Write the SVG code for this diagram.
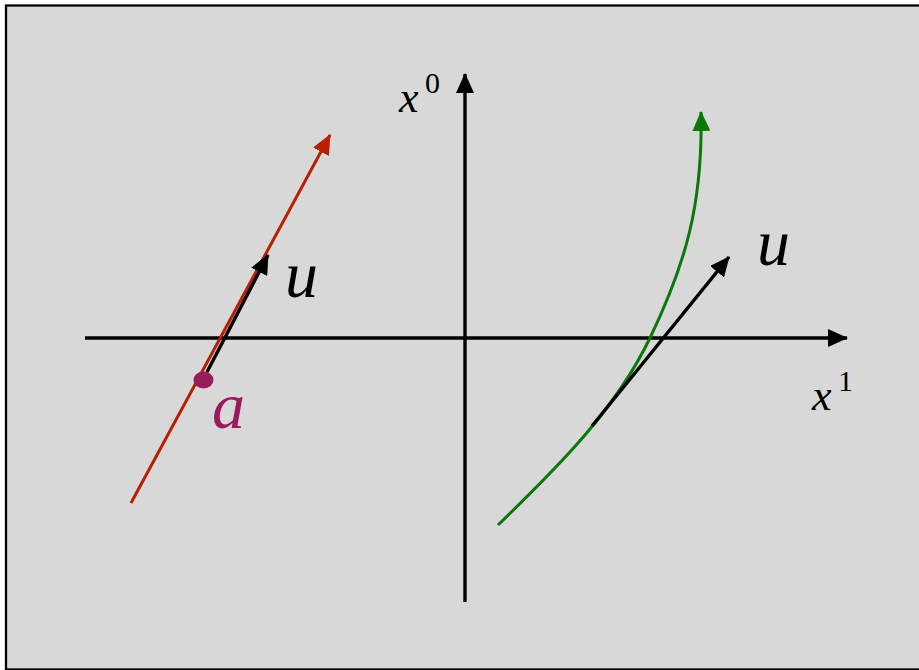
<svg xmlns="http://www.w3.org/2000/svg" width="919" height="670" viewBox="0 0 919 670">
<defs>
<style>
.ax{stroke:#000;stroke-width:3.4;fill:none}
</style>
<marker id="ab" viewBox="0 0 20 18" refX="19" refY="9" markerWidth="20" markerHeight="18" markerUnits="userSpaceOnUse" orient="auto"><path d="M0,0 L20,9 L0,18 Z" fill="#000"/></marker>
<marker id="ar" viewBox="0 0 20 18" refX="19" refY="9" markerWidth="20" markerHeight="18" markerUnits="userSpaceOnUse" orient="auto"><path d="M0,0 L20,9 L0,18 Z" fill="#b81e00"/></marker>
<marker id="ag" viewBox="0 0 20 18" refX="19" refY="9" markerWidth="20" markerHeight="18" markerUnits="userSpaceOnUse" orient="auto"><path d="M0,0 L20,9 L0,18 Z" fill="#0a780a"/></marker>
</defs>
<rect x="0" y="0" width="919" height="670" fill="#fff"/>
<rect x="6" y="5.5" width="940" height="664" fill="#d8d8d8" stroke="#000" stroke-width="2.3"/>
<g id="connectors">
<line id="x1axis" class="ax" x1="85" y1="338" x2="847" y2="338" marker-end="url(#ab)"/>
<line id="x0axis" class="ax" x1="465" y1="602" x2="465" y2="74" marker-end="url(#ab)"/>
<line id="redline" x1="131" y1="503" x2="330" y2="135" stroke="#b81e00" stroke-width="3" marker-end="url(#ar)"/>
<line id="uleft" class="ax" x1="207" y1="372" x2="268" y2="255" marker-end="url(#ab)"/>
<path id="greencurve" d="M498,525 C560,465 615,410 650,338 C685,265 703,205 701,112" stroke="#0a780a" stroke-width="3" fill="none" marker-end="url(#ag)"/>
<line id="uright" class="ax" x1="592" y1="426" x2="729" y2="257" marker-end="url(#ab)"/>
</g>
<g id="point-a">
<ellipse cx="203.5" cy="380" rx="10" ry="8.5" fill="#9a1a5e"/>
<text x="212" y="428" font-family="Liberation Serif, DejaVu Serif, serif" font-style="italic" font-size="66" fill="#9a1a5e">a</text>
</g>
<g id="label-u-left"><text x="285" y="297" font-family="Liberation Serif, DejaVu Serif, serif" font-style="italic" font-size="66">u</text></g>
<g id="label-u-right"><text x="757" y="265" font-family="Liberation Serif, DejaVu Serif, serif" font-style="italic" font-size="66">u</text></g>
<g id="label-x0"><text x="399" y="112" font-family="Liberation Serif, DejaVu Serif, serif" font-style="italic" font-size="44">x</text><text x="425" y="93" font-family="Liberation Serif, DejaVu Serif, serif" font-size="30">0</text></g>
<g id="label-x1"><text x="812" y="410" font-family="Liberation Serif, DejaVu Serif, serif" font-style="italic" font-size="44">x</text><text x="838" y="391" font-family="Liberation Serif, DejaVu Serif, serif" font-size="30">1</text></g>
</svg>
